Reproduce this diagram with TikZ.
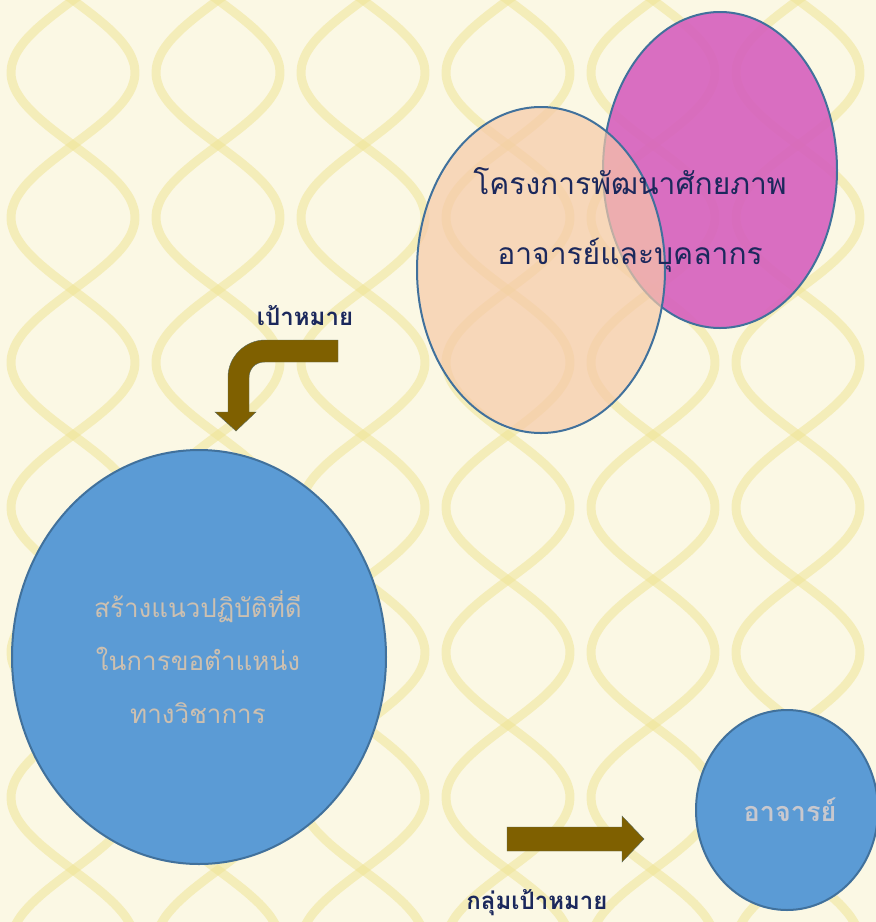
\documentclass[tikz,border=0pt]{standalone}
\usepackage{fontspec}
\newfontfamily\thai[Script=Thai]{Loma}
\usetikzlibrary{shapes.geometric}
\definecolor{cream}{RGB}{251,248,228}
\definecolor{band}{RGB}{240,228,150}
\definecolor{navy}{RGB}{27,40,92}
\definecolor{brownarrow}{RGB}{127,96,0}
\definecolor{bluefill}{RGB}{91,155,213}
\definecolor{blueedge}{RGB}{65,113,156}
\definecolor{magentafill}{RGB}{214,96,190}
\definecolor{peachfill}{RGB}{246,201,168}
\definecolor{softtext}{RGB}{205,192,176}
\definecolor{paletext}{RGB}{200,200,206}
\tikzset{
  blob/.style={ellipse, draw=blueedge, line width=2pt, inner sep=0pt},
  fatarrow/.style={fill=brownarrow, draw=blueedge!60!brownarrow, line width=0.4pt},
  label/.style={font=\thai\bfseries\fontsize{24}{28}\selectfont, text=navy},
}
\begin{document}
\begin{tikzpicture}[x=1pt,y=-1pt]
\useasboundingbox (0,0) rectangle (876,922);
% background
\fill[cream] (0,0) rectangle (876,922);
\begin{scope}
\clip (0,0) rectangle (876,922);
\foreach \c in {-72,73,218,363,508,653,798,943}{
  \draw[band, line width=9pt, opacity=0.55] plot[domain=-20:940, samples=80, smooth] ({\c+62*sin(\x*1.2414)}, \x);
  \draw[band, line width=9pt, opacity=0.55] plot[domain=-20:940, samples=80, smooth] ({\c-62*sin(\x*1.2414)}, \x);
}
\end{scope}
% top ellipses
\node[blob, fill=magentafill, fill opacity=0.9, minimum width=234pt, minimum height=316pt] (mag) at (720,170) {};
\node[blob, fill=peachfill, fill opacity=0.7, minimum width=248pt, minimum height=326pt] (peach) at (541,270) {};
\node[font=\thai\fontsize{30}{70}\selectfont, text=navy, align=center] (title) at (630,220) {โครงการพัฒนาศักยภาพ\\อาจารย์และบุคลากร};
% label and bent arrow
\node[label] (goal) at (305,316) {เป้าหมาย};
\fill[fatarrow] (338,340) -- (265,340) .. controls (245,340) and (228,357) .. (228,377)
  -- (228,412) -- (215,412) -- (236,431) -- (256,412) -- (249,412) -- (249,378)
  .. controls (249,369) and (255,362) .. (265,362) -- (338,362) -- cycle;
% big blue ellipse
\node[blob, fill=bluefill, minimum width=374pt, minimum height=414pt] (practice) at (199,657) {};
\node[font=\thai\fontsize{26}{53}\selectfont, text=softtext, align=center] (practicetext) at (198,657) {สร้างแนวปฏิบัติที่ดี\\ในการขอตำแหน่ง\\ทางวิชาการ};
% straight arrow
\fill[fatarrow] (507,827) -- (622,827) -- (622,816) -- (644,839) -- (622,862) -- (622,851) -- (507,851) -- cycle;
\node[label] (target) at (537,903) {กลุ่มเป้าหมาย};
% small circle
\node[blob, fill=bluefill, minimum width=182pt, minimum height=200pt] (teacher) at (787,810) {};
\node[font=\thai\bfseries\fontsize{27}{30}\selectfont, text=paletext] (teachertext) at (790,810) {อาจารย์};
\end{tikzpicture}
\end{document}
